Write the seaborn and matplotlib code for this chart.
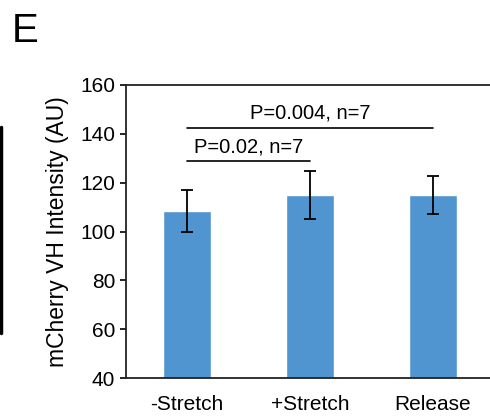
import matplotlib
matplotlib.use("Agg")
import matplotlib.pyplot as plt
import seaborn as sns
import pandas as pd

conditions = ["-Stretch", "+Stretch", "Release"]
intensity = [108.4, 114.8, 114.9]
sem = [8.5, 9.8, 7.8]

# significance brackets: (left idx, right idx, height, label)
brackets = [
    (0, 1, 128.9, "P=0.02, n=7"),
    (0, 2, 142.5, "P=0.004, n=7"),
]

df = pd.DataFrame({"Condition": conditions, "Intensity": intensity, "SEM": sem})

sns.set_style("ticks")
plt.rcParams["font.family"] = ["Liberation Sans", "DejaVu Sans"]
plt.rcParams["text.color"] = "black"
plt.rcParams["axes.labelcolor"] = "black"
plt.rcParams["xtick.color"] = "black"
plt.rcParams["ytick.color"] = "black"

fig = plt.figure(figsize=(4.9, 4.16), dpi=100)
ax = fig.add_axes([125.5 / 490, 1 - 378 / 416, 369 / 490, 293 / 416])

sns.barplot(data=df, x="Condition", y="Intensity", color="#5095cf",
            width=0.385, saturation=1, errorbar=None, ax=ax)
ax.errorbar(range(len(conditions)), df["Intensity"], yerr=df["SEM"],
            fmt="none", ecolor="black", elinewidth=1.3, capsize=4, capthick=1.3)

for i, j, h, label in brackets:
    ax.plot([i, j], [h, h], color="black", lw=1.2)
    ax.text((i + j) / 2, h + 2.0, label,
            ha="center", va="bottom", fontsize=14.5)

ax.set_ylim(40, 160)
ax.set_xlim(-0.5, 2.5)
ax.set_yticks(range(40, 161, 20))
ax.set_xlabel("")
ax.set_ylabel("mCherry VH Intensity (AU)", fontsize=16.5, labelpad=8)
ax.tick_params(axis="y", labelsize=15, length=4, width=1.2)
ax.tick_params(axis="x", labelsize=15, length=0, pad=12)
for s in ["left", "bottom", "top"]:
    ax.spines[s].set_linewidth(1.3)
    ax.spines[s].set_color("#222222")
ax.spines["top"].set_visible(True)
ax.spines["right"].set_visible(False)

fig.text(12 / 490, 1 - 12 / 416, "E", fontsize=29, va="top", ha="left")
fig.add_artist(plt.Line2D([1 / 490, 1 / 490], [1 - 127 / 416, 1 - 333 / 416],
                          color="black", lw=2.5, transform=fig.transFigure))

fig.savefig("out.png", dpi=100)
